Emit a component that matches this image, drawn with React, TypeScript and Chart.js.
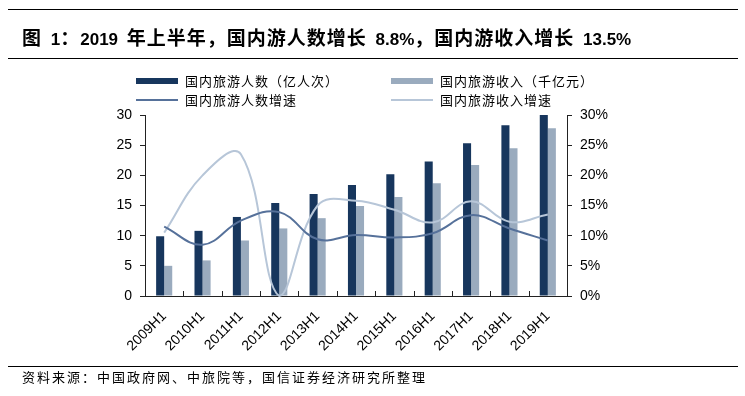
import React, { useEffect, useRef } from 'react';
import { Chart, registerables } from 'chart.js';

Chart.register(...registerables);

const categories = ['2009H1', '2010H1', '2011H1', '2012H1', '2013H1', '2014H1', '2015H1', '2016H1', '2017H1', '2018H1', '2019H1'];
const touristsBn = [9.9, 10.8, 13.1, 15.4, 16.9, 18.4, 20.2, 22.3, 25.3, 28.3, 30.8];
const revenueK = [5.0, 5.9, 9.2, 11.2, 12.9, 14.9, 16.4, 18.7, 21.7, 24.5, 27.8];
const touristsGrowth = [11.5, 8.5, 12.5, 13.9, 9.4, 10.1, 9.7, 10.4, 13.4, 11.2, 9.2];
const revenueGrowth = [10.5, 20.0, 23.5, 0.0, 15.0, 15.8, 14.3, 12.2, 15.7, 12.3, 13.5];
const leftTicks = [0, 5, 10, 15, 20, 25, 30];

const seriesNames = ['国内旅游人数（亿人次）', '国内旅游收入（千亿元）', '国内旅游人数增速', '国内旅游收入增速'];
const seriesColors = ['#17365D', '#9AABBE', '#56719A', '#B7C6D8'];

const titleText = '图 1：2019 年上半年，国内游人数增长 8.8%，国内游收入增长 13.5%';
const sourceText = '资料来源：中国政府网、中旅院等，国信证券经济研究所整理';

const latin = '"Liberation Sans", Arial, "Noto Sans CJK SC", sans-serif';
const cjk = '"Noto Sans CJK SC", "Liberation Sans", sans-serif';

const innerTicks = {
  id: 'innerTicks',
  afterDatasetsDraw(chart: any) {
    const x = chart.scales.x;
    const ctx = chart.ctx;
    const bottom = chart.chartArea.bottom;
    ctx.save();
    ctx.strokeStyle = '#222';
    ctx.lineWidth = 1;
    for (let i = 1; i < categories.length; i++) {
      const px = Math.round((x.getPixelForValue(i - 1) + x.getPixelForValue(i)) / 2) + 0.5;
      ctx.beginPath();
      ctx.moveTo(px, bottom);
      ctx.lineTo(px, bottom - 5);
      ctx.stroke();
    }
    ctx.restore();
  },
};

function splitRuns(text: string) {
  const runs: { t: string; latin: boolean }[] = [];
  for (const ch of text) {
    const isLatin = ch.charCodeAt(0) < 128;
    const last = runs[runs.length - 1];
    if (last && last.latin === isLatin) last.t += ch;
    else runs.push({ t: ch, latin: isLatin });
  }
  return runs;
}

export default function App() {
  const ref = useRef<HTMLCanvasElement>(null);

  useEffect(() => {
    if (!ref.current) return;
    const chart = new Chart(ref.current, {
      type: 'bar',
      data: {
        labels: categories,
        datasets: [
          {
            type: 'bar',
            label: seriesNames[0],
            data: touristsBn,
            backgroundColor: seriesColors[0],
            yAxisID: 'y',
            order: 2,
            categoryPercentage: 0.42,
            barPercentage: 1,
          },
          {
            type: 'bar',
            label: seriesNames[1],
            data: revenueK,
            backgroundColor: seriesColors[1],
            yAxisID: 'y',
            order: 2,
            categoryPercentage: 0.42,
            barPercentage: 1,
          },
          {
            type: 'line',
            label: seriesNames[2],
            data: touristsGrowth,
            borderColor: seriesColors[2],
            borderWidth: 2,
            pointRadius: 0,
            tension: 0.4,
            yAxisID: 'y1',
            order: 0,
            clip: false,
          } as any,
          {
            type: 'line',
            label: seriesNames[3],
            data: revenueGrowth,
            borderColor: seriesColors[3],
            borderWidth: 2,
            pointRadius: 0,
            tension: 0.4,
            yAxisID: 'y1',
            order: 1,
            clip: false,
          } as any,
        ],
      },
      options: {
        animation: false,
        responsive: false,
        maintainAspectRatio: false,
        layout: { padding: { top: 115, left: 0, right: 0, bottom: 0 } },
        plugins: {
          legend: { display: false },
          tooltip: { enabled: false },
        },
        scales: {
          x: {
            offset: true,
            grid: { display: false, drawOnChartArea: false, drawTicks: false },
            border: { display: true, color: '#222', width: 1 },
            ticks: {
              color: '#000',
              font: { family: latin, size: 14 },
              maxRotation: 45,
              minRotation: 45,
              padding: 12,
              autoSkip: false,
            },
            afterFit: (s: any) => { s.height = 100; },
          },
          y: {
            position: 'left',
            min: 0,
            max: 30,
            afterBuildTicks: (s: any) => { s.ticks = leftTicks.map((v) => ({ value: v })); },
            grid: { drawOnChartArea: false, drawTicks: true, tickLength: 5, color: '#222' },
            border: { display: true, color: '#222', width: 1 },
            ticks: { color: '#000', font: { family: latin, size: 14 }, padding: 8 },
            afterFit: (s: any) => { s.width = 145; },
          },
          y1: {
            position: 'right',
            min: 0,
            max: 30,
            afterBuildTicks: (s: any) => { s.ticks = leftTicks.map((v) => ({ value: v })); },
            grid: { drawOnChartArea: false, drawTicks: true, tickLength: 5, color: '#222' },
            border: { display: true, color: '#222', width: 1 },
            ticks: { color: '#000', font: { family: latin, size: 14 }, padding: 8, callback: (v: any) => v + '%' },
            afterFit: (s: any) => { s.width = 178; },
          },
        },
      },
      plugins: [innerTicks],
    } as any);
    return () => chart.destroy();
  }, []);

  const legendItem = (i: number, left: number, top: number, isBar: boolean) => (
    <div key={i} style={{ position: 'absolute', left, top, height: 16, display: 'flex', alignItems: 'center' }}>
      <div
        style={{
          width: 42,
          height: isBar ? 6 : 2,
          background: seriesColors[i],
          marginRight: 7,
        }}
      />
      <span style={{ fontFamily: cjk, fontSize: 13, letterSpacing: 1, color: '#000', whiteSpace: 'nowrap', lineHeight: '16px' }}>
        {seriesNames[i]}
      </span>
    </div>
  );

  return (
    <div style={{ position: 'absolute', left: 0, top: 0, width: 745, height: 396, background: '#fff', overflow: 'hidden' }}>
      <canvas ref={ref} width={745} height={396} style={{ position: 'absolute', left: 0, top: 0, width: 745, height: 396 }} />
      <div style={{ position: 'absolute', left: 8, right: 7, top: 9, height: 0, borderTop: '1.5px solid #000' }} />
      <div
        style={{
          position: 'absolute',
          left: 22,
          top: 25,
          fontWeight: 'bold',
          lineHeight: '24px',
          whiteSpace: 'pre',
          color: '#000',
        }}
      >
        {splitRuns(titleText).map((r, k) => (
          <span
            key={k}
            style={{
              fontFamily: r.latin ? latin : cjk,
              fontSize: r.latin ? 17 : 19,
              letterSpacing: r.latin ? 0 : 1,
              wordSpacing: r.latin ? 4 : 0,
            }}
          >
            {r.t}
          </span>
        ))}
      </div>
      <div style={{ position: 'absolute', left: 8, right: 7, top: 58, height: 0, borderTop: '1.5px solid #000' }} />
      {legendItem(0, 136, 73, true)}
      {legendItem(1, 391, 73, true)}
      {legendItem(2, 136, 92, false)}
      {legendItem(3, 391, 92, false)}
      <div style={{ position: 'absolute', left: 8, right: 7, top: 366, height: 0, borderTop: '1px solid #000' }} />
      <div
        style={{
          position: 'absolute',
          left: 22,
          top: 369,
          fontFamily: cjk,
          fontSize: 13,
          letterSpacing: 2,
          lineHeight: '16px',
          whiteSpace: 'nowrap',
          color: '#000',
        }}
      >
        {sourceText}
      </div>
    </div>
  );
}
